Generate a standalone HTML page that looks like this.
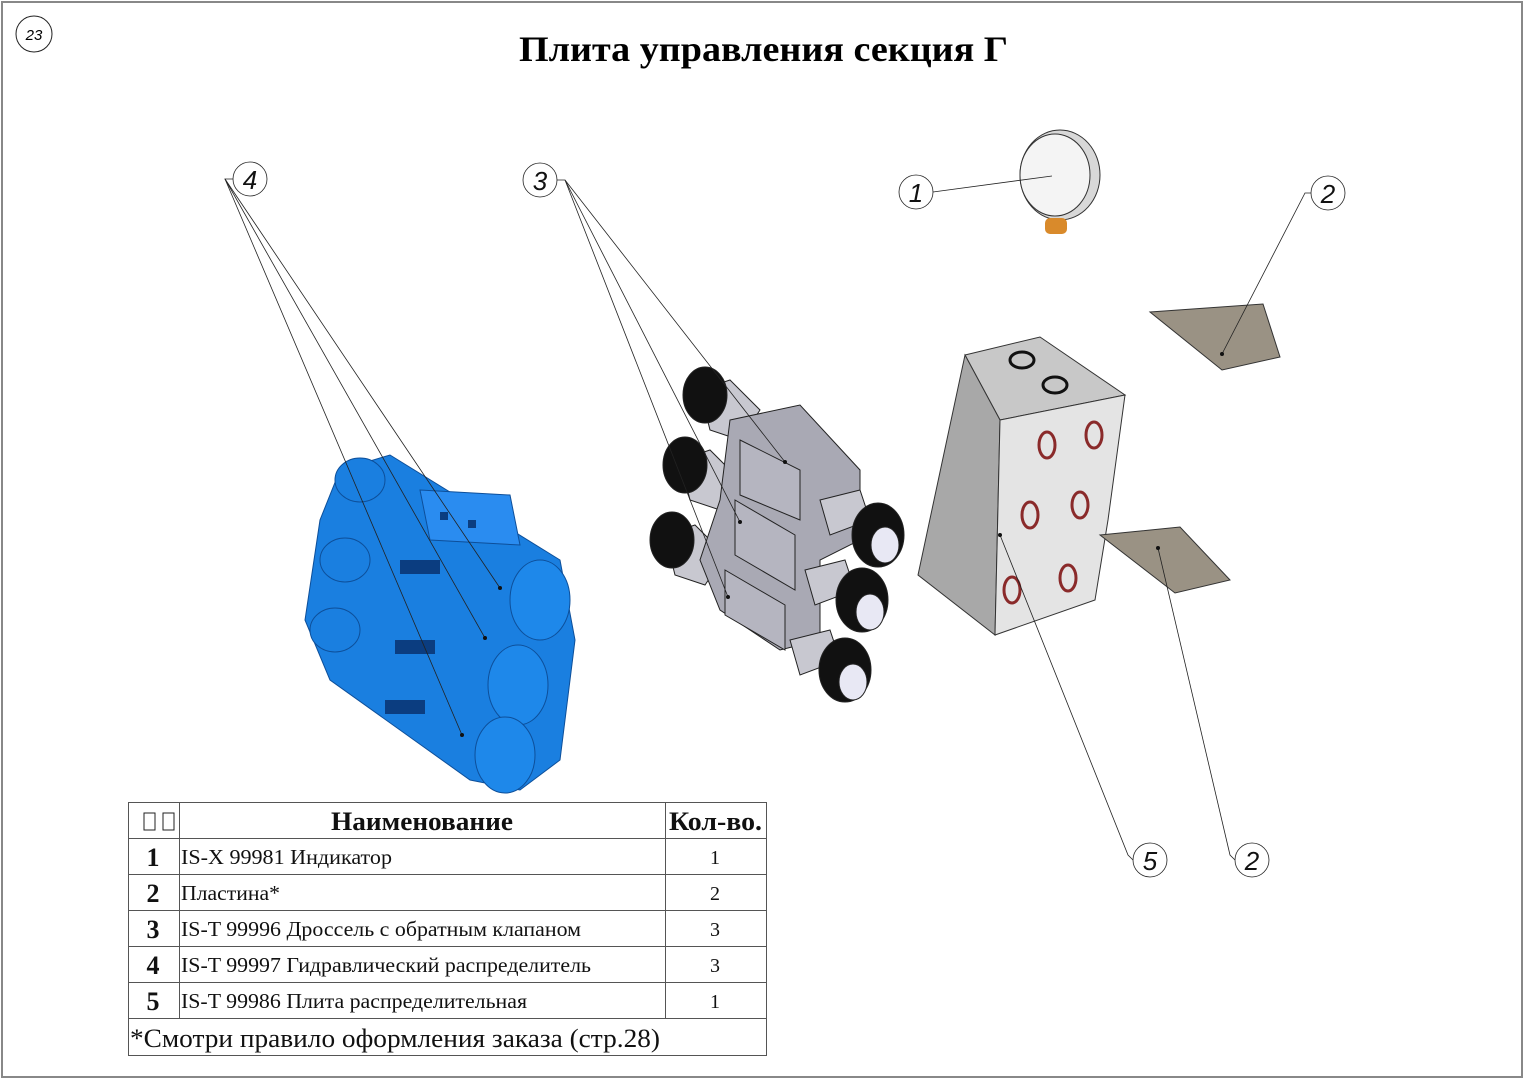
<!DOCTYPE html>
<html><head><meta charset="utf-8"><style>
html,body{margin:0;padding:0;background:#fff;}
svg{display:block;}
</style></head><body>
<svg width="1525" height="1080" viewBox="0 0 1525 1080" xmlns="http://www.w3.org/2000/svg" font-family="Liberation Serif, serif">
<rect x="2" y="2" width="1520" height="1075" fill="#fff" stroke="#888" stroke-width="2"/>
<circle cx="34" cy="34" r="18" fill="none" stroke="#222" stroke-width="1"/>
<text x="34" y="40" font-size="15" font-style="italic" text-anchor="middle" font-family="Liberation Sans, sans-serif">23</text>
<text x="519" y="61" font-size="36" font-weight="bold" textLength="489" lengthAdjust="spacingAndGlyphs">Плита управления секция Г</text>

<!-- blue valve block -->
<g fill="#1a7fe0" stroke="#0d4f9a" stroke-width="1">
<polygon points="340,470 390,455 560,560 575,640 560,760 520,790 470,780 330,680 305,620 320,520"/>
<polygon points="420,490 510,495 520,545 430,540" fill="#2a8cf0"/>
<ellipse cx="540" cy="600" rx="30" ry="40" fill="#1e88ea"/>
<ellipse cx="518" cy="685" rx="30" ry="40" fill="#1e88ea"/>
<ellipse cx="505" cy="755" rx="30" ry="38" fill="#1e88ea"/>
<ellipse cx="360" cy="480" rx="25" ry="22"/>
<ellipse cx="345" cy="560" rx="25" ry="22"/>
<ellipse cx="335" cy="630" rx="25" ry="22"/>
</g>
<g fill="#0b3d80">
<rect x="400" y="560" width="40" height="14"/><rect x="395" y="640" width="40" height="14"/><rect x="385" y="700" width="40" height="14"/>
<rect x="440" y="512" width="8" height="8"/><rect x="468" y="520" width="8" height="8"/>
</g>

<!-- drossels -->
<g stroke="#222" stroke-width="1">
<polygon points="700,390 730,380 760,410 740,440 710,430" fill="#c8c8d0"/>
<polygon points="680,460 710,450 740,480 720,510 690,500" fill="#c8c8d0"/>
<polygon points="665,535 695,525 725,555 705,585 675,575" fill="#c8c8d0"/>
<polygon points="730,420 800,405 860,470 860,540 820,560 820,640 780,650 720,610 700,560 720,500" fill="#a9a9b4"/>
<polygon points="740,440 800,470 800,520 740,495" fill="#b5b5c0"/>
<polygon points="735,500 795,535 795,590 735,555" fill="#b5b5c0"/>
<polygon points="725,570 785,605 785,650 725,615" fill="#b5b5c0"/>
<polygon points="820,500 860,490 870,520 830,535" fill="#c8c8d0"/>
<polygon points="805,570 845,560 855,590 815,605" fill="#c8c8d0"/>
<polygon points="790,640 830,630 840,660 800,675" fill="#c8c8d0"/>
<ellipse cx="705" cy="395" rx="22" ry="28" fill="#111"/>
<ellipse cx="685" cy="465" rx="22" ry="28" fill="#111"/>
<ellipse cx="672" cy="540" rx="22" ry="28" fill="#111"/>
<ellipse cx="878" cy="535" rx="26" ry="32" fill="#111"/>
<ellipse cx="862" cy="600" rx="26" ry="32" fill="#111"/>
<ellipse cx="845" cy="670" rx="26" ry="32" fill="#111"/>
<ellipse cx="885" cy="545" rx="14" ry="18" fill="#e8e8f4"/>
<ellipse cx="870" cy="612" rx="14" ry="18" fill="#e8e8f4"/>
<ellipse cx="853" cy="682" rx="14" ry="18" fill="#e8e8f4"/>
</g>

<!-- main plate -->
<g stroke="#333" stroke-width="1">
<polygon points="965,355 1040,337 1125,395 1000,420" fill="#c8c8c8"/>
<polygon points="965,355 1000,420 995,635 918,575" fill="#a8a8a8"/>
<polygon points="1000,420 1125,395 1108,520 1095,600 995,635" fill="#e4e4e4"/>
<ellipse cx="1022" cy="360" rx="12" ry="8" fill="none" stroke="#111" stroke-width="3"/>
<ellipse cx="1055" cy="385" rx="12" ry="8" fill="none" stroke="#111" stroke-width="3"/>
</g>
<g fill="none" stroke="#8a2a2a" stroke-width="3">
<ellipse cx="1047" cy="445" rx="8" ry="13"/><ellipse cx="1094" cy="435" rx="8" ry="13"/>
<ellipse cx="1030" cy="515" rx="8" ry="13"/><ellipse cx="1080" cy="505" rx="8" ry="13"/>
<ellipse cx="1012" cy="590" rx="8" ry="13"/><ellipse cx="1068" cy="578" rx="8" ry="13"/>
</g>

<!-- plates -->
<polygon points="1150,312 1263,304 1280,357 1222,370" fill="#9a9284" stroke="#333"/>
<polygon points="1100,535 1180,527 1230,580 1175,593" fill="#9a9284" stroke="#333"/>

<!-- gauge -->
<ellipse cx="1060" cy="175" rx="40" ry="45" fill="#d8d8d8" stroke="#333"/>
<ellipse cx="1055" cy="175" rx="35" ry="41" fill="#f4f4f4" stroke="#333"/>
<rect x="1045" y="218" width="22" height="16" rx="5" fill="#d98a2b"/>

<!-- leaders -->
<g stroke="#222" stroke-width="0.8" fill="none">
<circle cx="250" cy="179" r="17"/>
<polyline points="233,179 225,179 500,588"/>
<line x1="225" y1="179" x2="485" y2="638"/>
<line x1="225" y1="179" x2="462" y2="735"/>
<circle cx="540" cy="180" r="17"/>
<polyline points="557,180 565,180 785,462"/>
<line x1="565" y1="180" x2="740" y2="522"/>
<line x1="565" y1="180" x2="728" y2="597"/>
<circle cx="916" cy="192" r="17"/>
<line x1="933" y1="192" x2="1052" y2="176"/>
<circle cx="1328" cy="193" r="17"/>
<polyline points="1311,193 1305,193 1222,354"/>
<circle cx="1150" cy="860" r="17"/>
<polyline points="1133,860 1128,855 1000,535"/>
<circle cx="1252" cy="860" r="17"/>
<polyline points="1235,860 1230,855 1158,548"/>
</g>
<g font-family="Liberation Sans, sans-serif" font-size="26" font-style="italic" text-anchor="middle" fill="#111">
<text x="250" y="189">4</text><text x="540" y="190">3</text><text x="916" y="202">1</text>
<text x="1328" y="203">2</text><text x="1150" y="870">5</text><text x="1252" y="870">2</text>
</g>
<g fill="#111">
<circle cx="500" cy="588" r="2"/><circle cx="485" cy="638" r="2"/><circle cx="462" cy="735" r="2"/>
<circle cx="785" cy="462" r="2"/><circle cx="740" cy="522" r="2"/><circle cx="728" cy="597" r="2"/>
<circle cx="1222" cy="354" r="2"/><circle cx="1000" cy="535" r="2"/><circle cx="1158" cy="548" r="2"/>
</g>

<!-- table -->
<g stroke="#555" stroke-width="1" fill="none">
<rect x="128.5" y="802.5" width="638" height="253"/>
<line x1="128" y1="838.5" x2="766" y2="838.5"/>
<line x1="128" y1="874.5" x2="766" y2="874.5"/>
<line x1="128" y1="910.5" x2="766" y2="910.5"/>
<line x1="128" y1="946.5" x2="766" y2="946.5"/>
<line x1="128" y1="982.5" x2="766" y2="982.5"/>
<line x1="128" y1="1018.5" x2="766" y2="1018.5"/>
<line x1="179.5" y1="802" x2="179.5" y2="1018"/>
<line x1="665.5" y1="802" x2="665.5" y2="1018"/>
</g>
<g fill="none" stroke="#222" stroke-width="1">
<rect x="144" y="813" width="11" height="17"/><rect x="163" y="813" width="11" height="17"/>
</g>
<g fill="#111">
<text x="331" y="830" font-size="26" font-weight="bold" textLength="182" lengthAdjust="spacingAndGlyphs">Наименование</text>
<text x="669" y="830" font-size="26" font-weight="bold" textLength="93" lengthAdjust="spacingAndGlyphs">Кол-во.</text>
<g font-size="26" font-weight="bold" text-anchor="middle">
<text x="153" y="866">1</text><text x="153" y="902">2</text><text x="153" y="938">3</text><text x="153" y="974">4</text><text x="153" y="1010">5</text>
</g>
<g font-size="21">
<text x="181" y="864" textLength="211" lengthAdjust="spacingAndGlyphs">IS-X 99981 Индикатор</text>
<text x="181" y="900" textLength="99" lengthAdjust="spacingAndGlyphs">Пластина*</text>
<text x="181" y="936" textLength="400" lengthAdjust="spacingAndGlyphs">IS-T 99996 Дроссель с обратным клапаном</text>
<text x="181" y="972" textLength="410" lengthAdjust="spacingAndGlyphs">IS-T 99997 Гидравлический распределитель</text>
<text x="181" y="1008" textLength="346" lengthAdjust="spacingAndGlyphs">IS-T 99986 Плита распределительная</text>
</g>
<g font-size="20" text-anchor="middle">
<text x="715" y="864">1</text><text x="715" y="900">2</text><text x="715" y="936">3</text><text x="715" y="972">3</text><text x="715" y="1008">1</text>
</g>
<text x="130" y="1047" font-size="26" textLength="530" lengthAdjust="spacingAndGlyphs">*Смотри правило оформления заказа (стр.28)</text>
</g>
</svg>
</body></html>
